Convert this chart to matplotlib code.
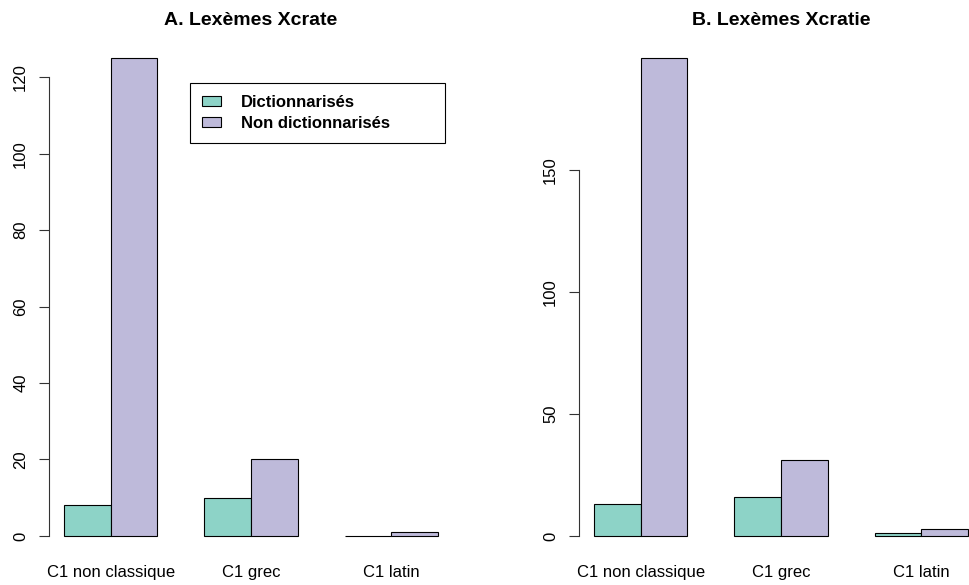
import numpy as np
import matplotlib.pyplot as plt

plt.rcParams['font.family'] = ['Liberation Sans', 'DejaVu Sans']

# data
categories = ['C1 non classique', 'C1 grec', 'C1 latin']
series_names = ['Dictionnarisés', 'Non dictionnarisés']
crate_dict = [8, 10, 0]
crate_nondict = [125, 20, 1]
cratie_dict = [13, 16, 1]
cratie_nondict = [196, 31, 3]
crate_ticks = [0, 20, 40, 60, 80, 100, 120]
cratie_ticks = [0, 50, 100, 150]

colors = ['#8DD3C7', '#BEBADA']

W, H = 970, 585
fig = plt.figure(figsize=(W / 100, H / 100), dpi=100)


def panel(left_px, right_px, d1, d2, ticks, title):
    top_px, bot_px = 39, 555
    ax = fig.add_axes([left_px / W, 1 - bot_px / H,
                       (right_px - left_px) / W, (bot_px - top_px) / H])
    # R barplot layout: bars of width 1, one unit gap between groups
    pos = np.array([1, 4, 7])
    ax.bar(pos, d1, width=1, align='edge', color=colors[0], edgecolor='black', linewidth=0.8,
           label=series_names[0])
    ax.bar(pos + 1, d2, width=1, align='edge', color=colors[1], edgecolor='black', linewidth=0.8,
           label=series_names[1])
    ymax = max(max(d1), max(d2))
    ax.set_xlim(1 - 0.32, 9 + 0.32)
    ax.set_ylim(-0.04 * ymax, 1.04 * ymax)
    for s in ['top', 'right', 'bottom']:
        ax.spines[s].set_visible(False)
    ax.spines['left'].set_bounds(ticks[0], ticks[-1])
    ax.spines['left'].set_color('#333333')
    ax.set_yticks(ticks)
    ax.set_yticklabels([str(t) for t in ticks], rotation=90, va='center', fontsize=12)
    ax.tick_params(axis='y', length=7, width=0.8, pad=8, color='#333333')
    ax.set_xticks(pos + 1)
    ax.set_xticklabels(categories, fontsize=12)
    ax.tick_params(axis='x', length=0, pad=7.5)
    ax.set_title(title, fontsize=14, fontweight='bold', pad=10)
    return ax


ax1 = panel(49, 453, crate_dict, crate_nondict, crate_ticks, 'A. Lexèmes Xcrate')
ax2 = panel(594 - 15, 983, cratie_dict, cratie_nondict, cratie_ticks, 'B. Lexèmes Xcratie')

leg = ax1.legend(loc='upper left', bbox_to_anchor=(0.349, 0.8004, 0.632, 0.1143),
                 mode='expand', borderaxespad=0, fancybox=False, edgecolor='black',
                 prop={'weight': 'bold', 'size': 12}, handlelength=1.15, handleheight=0.6,
                 handletextpad=1.2, borderpad=0.72, labelspacing=0.34, framealpha=1)
leg.get_frame().set_linewidth(0.8)

fig.savefig('out.png', dpi=100)
